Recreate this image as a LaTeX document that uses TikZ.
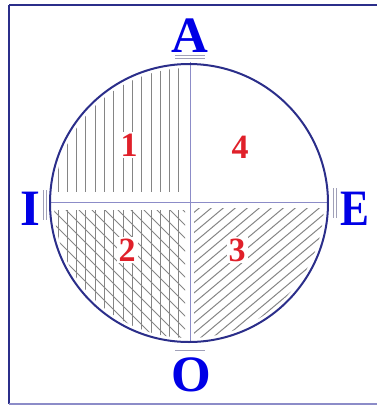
\documentclass[tikz,border=0pt]{standalone}
\usepackage{fontspec}
\setmainfont{Liberation Serif}
\definecolor{navy}{HTML}{2B2E8A}
\definecolor{axisc}{HTML}{8C8CC8}
\definecolor{hatch}{HTML}{858585}
\definecolor{lblue}{HTML}{0000E6}
\definecolor{lred}{HTML}{E0202A}
\definecolor{barc}{HTML}{A0A0B8}
\begin{document}
\begin{tikzpicture}[x=1pt,y=-1pt,
  letter/.style={font=\fontsize{51}{51}\selectfont\bfseries, text=lblue, inner sep=0pt, anchor=base},
  num/.style={font=\fontsize{34}{34}\selectfont\bfseries, text=lred, fill=white, inner sep=2pt},
  hl/.style={draw=hatch, line width=1pt},
  axis/.style={draw=axisc, line width=0.8pt},
  bar/.style={draw=barc, line width=0.9pt}]
\useasboundingbox (0,0) rectangle (377,405);
% frame
\draw[navy, line width=1.8pt] (9,5) -- (390,5);
\draw[navy, line width=1.4pt] (9,5) -- (9,404);
\draw[axisc, line width=1.2pt] (9,404) -- (390,404);
% hatching quadrant 1
\begin{scope}
  \clip (189,203) circle (135);
  \clip (54,60) rectangle (185,192);
  \foreach \i in {0,...,13} \draw[hl] ({58+9.3*\i},55) -- ({58+9.3*\i},192);
\end{scope}
% quadrant 2
\begin{scope}
  \clip (189,203) circle (135);
  \clip (54,210) rectangle (185,345);
  \foreach \i in {0,...,13} \draw[hl] ({58+9.3*\i},210) -- ({58+9.3*\i},345);
  \foreach \i in {0,...,22} \draw[hl] ({-95+13*\i},205) -- ({-95+13*\i+150},355);
\end{scope}
% quadrant 3
\begin{scope}
  \clip (189,203) circle (135);
  \clip (194,208) rectangle (330,345);
  \foreach \i in {0,...,26} \draw[hl] ({30+12*\i},350) -- ({30+12*\i+180},199);
\end{scope}
% axes
\coordinate (top) at (190,62);
\coordinate (bot) at (190,343);
\coordinate (lft) at (50,202);
\coordinate (rgt) at (327,202);
\draw[axis] (top) -- (bot);
\draw[axis] (lft) -- (rgt);
% circle
\node[draw=navy, line width=2pt, circle, minimum size=278pt, inner sep=0pt] (c) at (189,203) {};
% bars
\coordinate (a1) at (175,55.5); \coordinate (a2) at (205,55.5);
\coordinate (a3) at (175,58); \coordinate (a4) at (205,58);
\draw[bar] (a1) -- (a2);
\draw[bar] (a3) -- (a4);
\coordinate (o1) at (175,350); \coordinate (o2) at (205,350);
\draw[bar] (o1) -- (o2);
\coordinate (i1) at (43.5,190); \coordinate (i2) at (43.5,220);
\coordinate (i3) at (46.5,190); \coordinate (i4) at (46.5,220);
\draw[bar] (i1) -- (i2);
\draw[bar] (i3) -- (i4);
\coordinate (e1) at (333,188); \coordinate (e2) at (333,218);
\coordinate (e3) at (336,188); \coordinate (e4) at (336,218);
\draw[bar] (e1) -- (e2);
\draw[bar] (e3) -- (e4);
% letters
\node[letter] (A) at (190,52) {A};
\node[letter] (I) at (30,225) {I};
\node[letter, xscale=0.85] (E) at (355,225) {E};
\node[letter] (O) at (191,391) {O};
% numbers
\node[num] (n1) at (129,145) {1};
\node[num] (n4) at (240,147) {4};
\node[num] (n2) at (127,250) {2};
\node[num] (n3) at (237,250) {3};
\end{tikzpicture}
\end{document}
